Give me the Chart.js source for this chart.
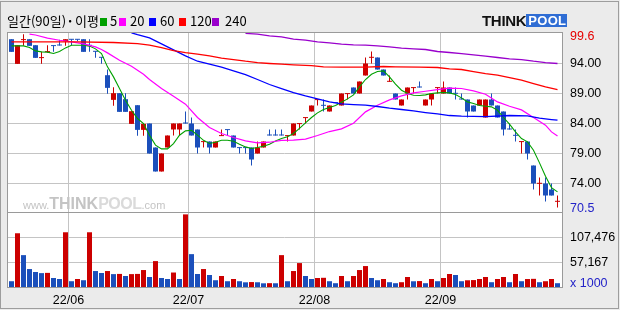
<!DOCTYPE html>
<html lang="ko">
<head>
<meta charset="utf-8">
<title>일간 차트</title>
<script src="https://cdn.jsdelivr.net/npm/chart.js@4.4.1/dist/chart.umd.min.js"></script>
<style>
  html, body { margin:0; padding:0; background:#ebebeb; }
  #wrap { position:relative; width:620px; height:310px; background:#ebebeb; overflow:hidden; }
  #wrap canvas { position:absolute; left:0; }
  #priceCanvas { top:0; }
  #volumeCanvas { top:212px; }
  .ov { position:absolute; white-space:nowrap; pointer-events:none; z-index:5; }
  #frame { position:absolute; left:0; top:1px; width:617px; height:306px; border:1px solid #9d9d9d; pointer-events:none; z-index:6; }
  .t { font-family:"Noto Sans CJK KR", sans-serif; font-size:13px; line-height:14px; top:14px; color:#000; }
  .sq { top:18px; width:7px; height:8px; }
  .rl { font-family:"Liberation Sans",sans-serif; font-size:12.5px; line-height:14px; left:570px; }
  #logo { left:482px; top:14px; height:13px; }
  #logo span { display:inline-block; height:13px; line-height:13px; vertical-align:top; font-family:"Liberation Sans",sans-serif; font-weight:bold; }
  #logo .think { font-size:15px; color:#111; letter-spacing:-0.3px; }
  #logo .pool { font-size:13px; color:#fff; background:#2f6dd4; padding:0 1px 0 2px; letter-spacing:0.3px; }
  #wm { left:23px; top:195px; color:#c4c4c4; font-family:"Liberation Sans",sans-serif; }
  #wm .s { font-size:11px; }
  #wm .b { font-size:16px; font-weight:bold; }
  #wm .p { color:#dadada; letter-spacing:-0.5px; }
</style>
</head>
<body>
<div id="wrap">
  <canvas id="priceCanvas" width="620" height="212"></canvas>
  <canvas id="volumeCanvas" width="620" height="98"></canvas>

  <div class="ov t" style="left:7px">일간(90일)</div>
  <div class="ov t" style="left:68px;font-weight:bold">·</div>
  <div class="ov t" style="left:75px">이평</div>
  <div class="ov sq" style="left:100px;background:#00a000"></div>
  <div class="ov t" style="left:110px">5</div>
  <div class="ov sq" style="left:119px;background:#ff00ff"></div>
  <div class="ov t" style="left:130px">20</div>
  <div class="ov sq" style="left:149px;background:#0000ff"></div>
  <div class="ov t" style="left:160px">60</div>
  <div class="ov sq" style="left:179px;background:#ff0000"></div>
  <div class="ov t" style="left:190px">120</div>
  <div class="ov sq" style="left:212px;background:#9900cc"></div>
  <div class="ov t" style="left:225px">240</div>

  <div class="ov" id="logo"><span class="think">THINK</span><span class="pool">POOL</span></div>
  <div class="ov" id="wm"><span class="s">www.</span><span class="b">THINK</span><span class="b p">POOL</span><span class="s">.com</span></div>

  <div class="ov rl" id="hiLabel" style="top:29px;color:#e60000"></div>
  <div class="ov rl" id="loLabel" style="top:201px;color:#2323c8"></div>
  <div class="ov rl" id="unitLabel" style="top:276px;color:#2323c8"></div>
  <div id="frame"></div>
</div>
<script>
// ---------- data ----------
const candleOpen = [98.05,93.94,97.9,98.05,97.05,94.9,95.9,97.0,97.1,97.72,
  98.05,98.05,98.05,97.05,96.05,95.05,92.05,87.94,89.05,88.05,
  83.94,87.05,82.94,84.0,80.0,76.0,80.0,83.0,83.0,84.1,
  84.0,83.0,80.9,81.0,80.0,81.9,83.0,82.0,80.0,80.0,
  80.0,79.0,80.0,82.1,82.1,82.1,81.9,82.0,83.9,84.9,
  86.0,87.9,87.05,86.0,87.45,87.0,88.9,90.0,89.0,92.0,
  94.95,95.0,93.0,90.95,89.0,87.0,89.0,89.9,90.1,87.0,
  88.0,89.9,89.0,90.0,89.05,88.1,88.0,87.0,87.0,85.0,
  88.0,87.0,86.0,83.1,82.05,80.9,81.0,77.0,73.95,74.0,
  73.0,70.95];
const candleHigh = [98.05,97.05,98.88,98.05,97.05,95.94,97.05,97.0,97.94,98.05,
  98.05,98.05,98.05,98.05,96.05,95.05,92.99,90.05,89.05,89.05,
  86.05,87.05,83.94,84.0,80.0,79.0,82.0,84.0,84.0,86.0,
  85.0,83.0,81.0,81.0,81.0,83.0,83.0,82.0,80.0,80.0,
  80.0,81.0,81.0,83.0,83.0,83.0,82.0,84.0,84.0,85.0,
  87.0,88.0,88.0,87.0,87.45,89.0,89.0,90.0,91.0,95.0,
  96.0,95.0,93.0,92.0,89.0,88.0,90.0,90.0,91.0,88.0,
  89.0,90.0,91.0,90.0,90.0,89.0,88.0,87.0,88.0,88.0,
  89.0,87.0,86.0,84.0,83.0,81.0,81.0,77.0,75.0,75.0,
  74.0,72.0];
const candleLow = [95.94,93.94,96.94,96.94,94.94,93.94,95.8,95.94,97.0,96.94,
  97.05,97.7,95.94,95.94,94.94,93.94,88.94,86.94,85.94,85.94,
  83.94,81.94,81.94,79.0,76.0,76.0,80.0,82.0,82.0,84.0,
  82.0,79.0,80.0,79.0,80.0,81.9,82.0,80.0,79.0,79.0,
  77.0,79.0,80.0,82.0,82.0,82.0,81.0,82.0,83.0,84.0,
  86.0,87.0,86.0,86.0,87.4,87.0,88.0,89.0,89.0,92.0,
  94.0,93.0,92.0,90.95,88.0,87.0,88.0,89.0,90.0,87.0,
  87.0,89.0,89.0,89.0,88.0,88.0,85.0,86.0,87.0,85.0,
  87.0,85.0,82.0,83.0,81.0,79.0,78.0,73.0,72.0,71.0,
  72.0,70.0];
const candleClose = [95.94,97.05,98.0,96.94,94.94,95.0,96.0,96.9,97.0,98.05,
  97.95,97.95,95.94,96.95,95.95,94.95,89.94,89.05,85.94,85.94,
  86.05,82.94,83.94,79.0,76.0,79.0,82.0,84.0,84.0,84.0,
  82.0,80.0,81.0,80.0,81.0,82.0,82.9,80.0,79.9,79.9,
  78.0,80.0,81.0,82.0,82.0,82.0,82.0,84.0,84.0,85.0,
  87.0,88.0,86.95,87.0,87.4,89.0,89.0,89.0,91.0,94.0,
  95.05,93.0,92.0,91.05,88.0,88.0,90.0,90.0,90.0,88.0,
  89.0,90.0,90.0,89.0,88.95,88.0,86.0,86.0,88.0,88.0,
  87.0,85.0,83.0,83.0,81.95,81.0,79.0,74.0,74.05,72.0,
  72.0,71.05];
const volume = [19500,116000,72000,44000,38000,35800,36300,26000,24000,118000,
  19500,24000,21500,118000,40000,36000,40000,33800,34200,30000,
  33800,34200,42000,28000,60000,26000,24000,37000,24000,154000,
  74000,34000,44000,32000,21500,30000,19500,24000,19500,17300,
  17800,17400,15300,15600,15400,72000,19500,40000,56000,30000,
  24000,26000,26400,19500,15500,30000,19500,30000,42000,50000,
  26000,21500,24000,17500,15500,17500,28000,19400,19800,15500,
  24000,19500,26000,34000,32000,19500,21400,21800,24000,28000,
  17500,24000,28000,17500,34000,19500,23900,24300,17500,19500,
  24000,15500];

const ma5 = [96.94,96.94,96.94,96.66,96.1,95.94,95.9,95.66,96.0,96.6,
  97.05,97.05,97.05,96.9,96.44,95.66,93.44,91.77,89.83,87.88,
  86.2,84.83,84.0,82.05,80.4,79.77,79.77,80.66,82.05,82.77,
  82.88,82.05,81.2,80.66,80.88,81.2,81.2,81.05,80.55,80.1,
  79.83,80.0,80.2,80.55,81.1,81.5,81.8,82.33,83.2,84.1,
  85.0,85.77,86.33,86.66,87.0,87.55,88.1,88.77,90.1,91.33,
  92.2,92.66,92.77,91.77,90.55,89.55,89.0,88.72,88.66,88.77,
  89.0,89.1,89.16,89.1,88.83,88.27,87.6,87.33,87.0,86.88,
  86.77,86.2,85.0,83.88,82.6,81.5,80.94,79.55,77.44,75.2,
  73.3,72.6];
const ma20Day = [4,5,7,9,11,13,15,16,17,19,21,23,24,26,28,30,32,34,36,38,40,42,44,46,48,50,52,54,56,58,60,62,64,66,68,70,72,74,76,78,80,82,84,86,88,90,91,92];
const ma20 = [98.9,98.75,98.22,97.88,97.6,97.27,96.77,96.33,95.77,94.55,93.55,92.22,91.33,89.83,88.55,87.22,85.0,83.33,82.33,81.66,81.1,80.77,80.88,81.2,81.22,81.4,82.0,82.66,83.1,84.05,85.94,87.05,87.94,88.6,89.1,89.38,89.66,89.88,89.83,89.44,88.88,87.6,86.88,86.27,85.0,83.72,82.6,81.9];
const ma60Day = [21,22,24,26,28,30,32,34,36,38,40,42,44,46,48,50,52,54,56,58,60,62,64,66,68,70,72,74,76,80,84,87,89,91,92];
const ma60 = [99.1,98.8,98.27,97.27,96.27,95.27,94.38,93.88,93.38,92.77,92.16,91.33,90.5,89.83,89.16,88.6,88.1,87.6,87.27,87.16,87.05,86.83,86.55,86.33,86.1,85.83,85.6,85.33,85.22,85.16,85.33,85.27,84.88,84.66,84.55];
const ma120Day = [1,12,18,22,24,26,28,30,32,34,36,38,40,42,44,46,48,51,53,56,60,63,65,69,72,74,76,78,80,82,84,86,88,90,92];
const ma120 = [97.6,97.6,97.5,97.3,97.05,96.66,96.16,95.83,95.55,95.27,94.88,94.66,94.38,94.16,94.0,93.88,93.77,93.66,93.44,93.38,93.38,93.5,93.44,93.38,93.33,93.1,93.0,92.66,92.33,92.05,91.66,91.22,90.66,90.1,89.66];
const ma240Day = [40,42,44,46,48,50,52,54,56,58,60,62,64,66,68,70,72,74,76,78,80,82,84,86,88,90,92];
const ma240 = [99.02,98.88,98.6,98.44,98.05,97.88,97.6,97.44,97.22,97.1,97.05,96.94,96.77,96.55,96.44,96.33,96.0,95.83,95.66,95.44,95.22,95.0,94.77,94.66,94.38,94.16,94.0];

const monthStart = [11, 31, 52, 73];          // first candle of each month
const monthLabels = ['22/06', '22/07', '22/08', '22/09'];
const priceTicks = [74, 79, 84, 89, 94];
const volumeTicks = [57167, 107476];
const periodHighLabel = '99.6';
const periodLowLabel = '70.5';
const volumeUnitLabel = 'x 1000';

// ---------- styles ----------
const RED = '#cc0000', BLUE = '#1b4fbb', GRID = '#c4c4c4', FRAME = '#9a9a9a';
const TICK_FONT = { family: '"Liberation Sans",sans-serif', size: 12.5 };
Chart.defaults.font.family = TICK_FONT.family;

document.getElementById('hiLabel').textContent = periodHighLabel;
document.getElementById('loLabel').textContent = periodLowLabel;
document.getElementById('unitLabel').textContent = volumeUnitLabel;

const days = candleOpen.map((_, i) => i + 1);
const candleColor = days.map((_, i) => candleClose[i] > candleOpen[i] ? RED : BLUE);
const volColor = volume.map((v, i) => (i > 0 && v > volume[i - 1]) ? RED : BLUE);
const xMin = 0.25, xMax = days.length + 0.75;

const framePlugin = {
  id: 'frame',
  beforeDraw(chart) {
    const { ctx, chartArea: a } = chart;
    ctx.save();
    ctx.fillStyle = '#ffffff';
    ctx.fillRect(a.left, a.top, a.right - a.left, a.bottom - a.top);
    ctx.restore();
  },
  afterDraw(chart) {
    const { ctx, chartArea: a } = chart;
    ctx.save();
    ctx.strokeStyle = FRAME;
    ctx.lineWidth = 1;
    ctx.strokeRect(a.left + 0.5, a.top + 0.5, a.right - a.left, a.bottom - a.top);
    ctx.restore();
  }
};

function xScale(showLabels) {
  return {
    type: 'linear', min: xMin, max: xMax, offset: false,
    afterBuildTicks: s => { s.ticks = monthStart.map(m => ({ value: m - 0.5 })); },
    ticks: {
      display: showLabels, color: '#000', font: TICK_FONT, padding: 6, maxRotation: 0, autoSkip: false,
      callback: (v) => { const k = monthStart.indexOf(v + 0.5); return k >= 0 ? monthLabels[k] : ''; }
    },
    grid: { color: GRID, drawTicks: false, offset: false, lineWidth: 1 },
    border: { display: false },
    afterFit: s => { s.height = showLabels ? 23 : 0; s.paddingLeft = 0; s.paddingRight = 0; }
  };
}
function yScaleFit(s) { s.width = 58; s.paddingTop = 0; s.paddingBottom = 0; }

const lineDs = (label, xs, ys, color, w) => ({
  type: 'line', label, data: ys.map((v, i) => ({ x: xs[i], y: v })),
  borderColor: color, borderWidth: w, pointRadius: 0, tension: 0, fill: false, order: 0
});

new Chart(document.getElementById('priceCanvas'), {
  type: 'bar',
  data: {
    datasets: [
      lineDs('MA240', ma240Day, ma240, '#9900cc', 1.3),
      lineDs('MA120', ma120Day, ma120, '#ff0000', 1.3),
      lineDs('MA60', ma60Day, ma60, '#0000ff', 1.3),
      lineDs('MA20', ma20Day, ma20, '#ff00ff', 1.2),
      lineDs('MA5', days, ma5, '#00a000', 1.1),
      {
        label: 'body', order: 1,
        data: days.map((d, i) => ({ x: d, y: [Math.min(candleOpen[i], candleClose[i]), Math.max(candleOpen[i], candleClose[i])] })),
        backgroundColor: candleColor, borderWidth: 0, barThickness: 5, minBarLength: 1,
        grouped: false, inflateAmount: 0
      },
      {
        label: 'wick', order: 2,
        data: days.map((d, i) => ({ x: d, y: [candleLow[i], candleHigh[i]] })),
        backgroundColor: candleColor, borderWidth: 0, barThickness: 1, minBarLength: 1,
        grouped: false, inflateAmount: 0
      }
    ]
  },
  options: {
    animation: false, responsive: false, maintainAspectRatio: false, events: [],
    layout: { padding: { left: 7, top: 32, right: 0, bottom: 0 } },
    plugins: { legend: { display: false }, tooltip: { enabled: false } },
    scales: {
      x: xScale(false),
      y: {
        position: 'right', min: 69.25, max: 99.25, beginAtZero: false,
        afterBuildTicks: s => { s.ticks = priceTicks.map(v => ({ value: v })); },
        ticks: { color: '#000', font: TICK_FONT, padding: 8, callback: v => Number(v).toFixed(2) },
        grid: { color: GRID, drawTicks: false },
        border: { display: false },
        afterFit: yScaleFit
      }
    }
  },
  plugins: [framePlugin]
});

new Chart(document.getElementById('volumeCanvas'), {
  type: 'bar',
  data: {
    datasets: [{
      label: 'volume',
      data: days.map((d, i) => ({ x: d, y: volume[i] })),
      backgroundColor: volColor, borderWidth: 0, barThickness: 5, grouped: false, inflateAmount: 0
    }]
  },
  options: {
    animation: false, responsive: false, maintainAspectRatio: false, events: [],
    layout: { padding: { left: 7, top: 0, right: 0, bottom: 0 } },
    plugins: { legend: { display: false }, tooltip: { enabled: false } },
    scales: {
      x: xScale(true),
      y: {
        position: 'right', min: 7864, max: 158791,
        afterBuildTicks: s => { s.ticks = volumeTicks.map(v => ({ value: v })); },
        ticks: { color: '#000', font: TICK_FONT, padding: 8, callback: v => Number(v).toLocaleString('en-US') },
        grid: { color: GRID, drawTicks: false },
        border: { display: false },
        afterFit: yScaleFit
      }
    }
  },
  plugins: [framePlugin]
});
</script>
</body>
</html>
